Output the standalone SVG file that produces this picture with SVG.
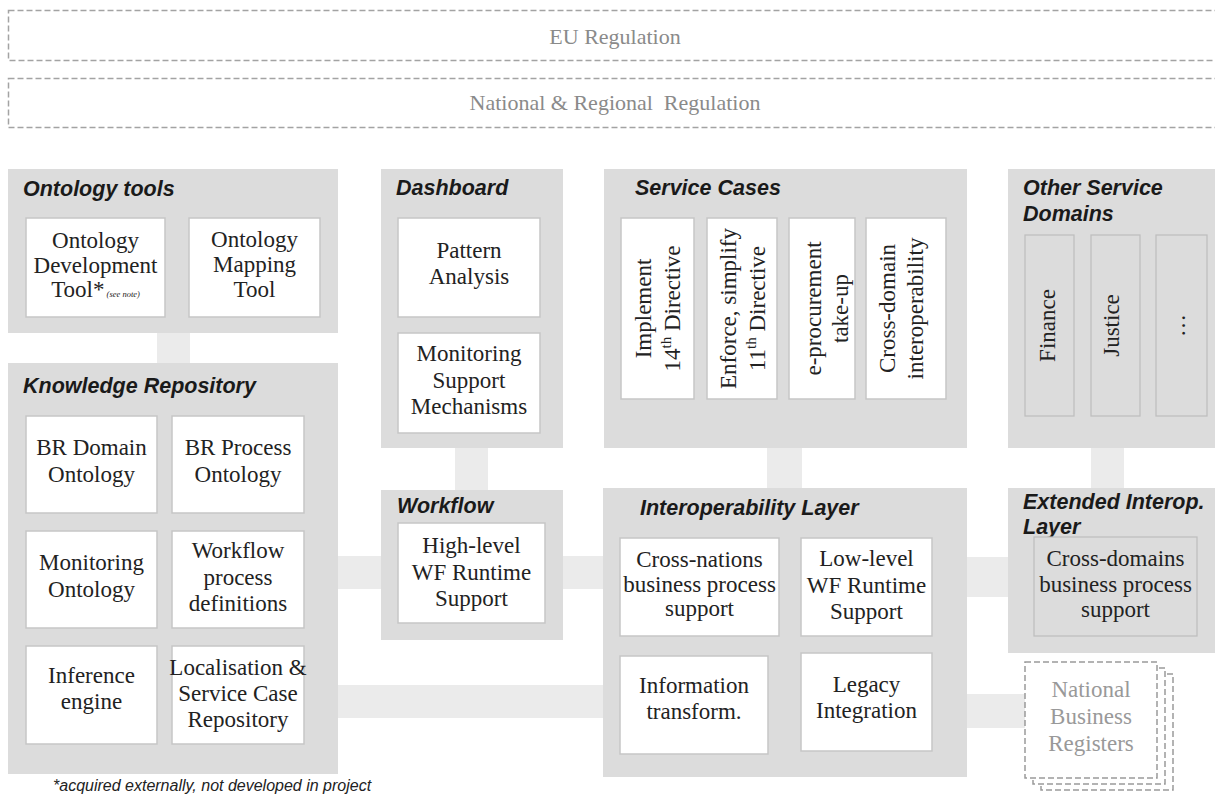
<svg xmlns="http://www.w3.org/2000/svg" width="1215" height="796" viewBox="0 0 1215 796">
<style>
.bg{fill:#ffffff}
.reg{fill:#ffffff;stroke:#a3a3a3;stroke-width:1.5;stroke-dasharray:6 3}
.regt{font-family:"Liberation Serif","Times New Roman",serif;font-size:22px;fill:#8a8a8a;text-anchor:middle}
.panel{fill:#dcdcdc}
.band{fill:#ebebeb}
.box{fill:#ffffff;stroke:#c6c6c6;stroke-width:1.5}
.gbox{fill:#dcdcdc;stroke:#bdbdbd;stroke-width:1.2}
.title{font-family:"Liberation Sans",Arial,sans-serif;font-size:21.5px;font-weight:bold;font-style:italic;fill:#1a1a1a}
.t{font-family:"Liberation Serif","Times New Roman",serif;font-size:23px;fill:#222;text-anchor:middle}
.nbr{fill:#ffffff;stroke:#9a9a9a;stroke-width:1.5;stroke-dasharray:6 3}
.nbrt{font-family:"Liberation Serif","Times New Roman",serif;font-size:23px;fill:#999;text-anchor:middle}
.foot{font-family:"Liberation Sans",Arial,sans-serif;font-size:16px;font-style:italic;fill:#222}
</style>
<rect class="bg" x="0" y="0" width="1215" height="796"/>

<g id="eu-regulation">
<rect class="reg" x="8.5" y="10.5" width="1225" height="50"/>
<text class="regt" x="615" y="44">EU Regulation</text>
</g>
<g id="national-regulation">
<rect class="reg" x="8.5" y="78.5" width="1225" height="49"/>
<text class="regt" x="615" y="110">National &amp; Regional&#160; Regulation</text>
</g>

<g id="connectors">
<rect class="band" x="157" y="330" width="33" height="36"/>
<rect class="band" x="455" y="445" width="33" height="48"/>
<rect class="band" x="767" y="445" width="35" height="46"/>
<rect class="band" x="1091" y="445" width="33" height="46"/>
<rect class="band" x="335" y="556" width="49" height="33"/>
<rect class="band" x="560" y="556" width="46" height="33"/>
<rect class="band" x="335" y="685" width="271" height="33"/>
<rect class="band" x="964" y="557" width="47" height="40"/>
<rect class="band" x="964" y="694" width="64" height="34"/>
</g>

<g id="ontology-tools">
<rect class="panel" x="8" y="169" width="330" height="164"/>
<text class="title" x="23" y="196">Ontology tools</text>
<g id="ontology-development-tool">
<rect class="box" x="26" y="218" width="139" height="99"/>
<text class="t" font-size="21" x="95.5" y="248">Ontology</text>
<text class="t" font-size="21" x="95.5" y="273">Development</text>
<text class="t" font-size="21" x="95.5" y="297">Tool*<tspan font-size="8.5" font-style="italic"> (see note)</tspan></text>
</g>
<g id="ontology-mapping-tool">
<rect class="box" x="189" y="218" width="131" height="99"/>
<text class="t" font-size="21" x="254.5" y="247">Ontology</text>
<text class="t" font-size="21" x="254.5" y="272">Mapping</text>
<text class="t" font-size="21" x="254.5" y="297">Tool</text>
</g>
</g>

<g id="knowledge-repository">
<rect class="panel" x="8" y="363" width="330" height="411"/>
<text class="title" x="23" y="393">Knowledge Repository</text>
<g id="br-domain-ontology">
<rect class="box" x="26" y="416" width="131" height="97"/>
<text class="t" x="91.5" y="455">BR Domain</text>
<text class="t" x="91.5" y="482">Ontology</text>
</g>
<g id="br-process-ontology">
<rect class="box" x="172" y="416" width="132" height="97"/>
<text class="t" x="238" y="455">BR Process</text>
<text class="t" x="238" y="482">Ontology</text>
</g>
<g id="monitoring-ontology">
<rect class="box" x="26" y="531" width="131" height="97"/>
<text class="t" x="91.5" y="570">Monitoring</text>
<text class="t" x="91.5" y="597">Ontology</text>
</g>
<g id="workflow-process-definitions">
<rect class="box" x="172" y="531" width="132" height="97"/>
<text class="t" x="238" y="558">Workflow</text>
<text class="t" x="238" y="585">process</text>
<text class="t" x="238" y="611">definitions</text>
</g>
<g id="inference-engine">
<rect class="box" x="26" y="646" width="131" height="98"/>
<text class="t" x="91.5" y="683">Inference</text>
<text class="t" x="91.5" y="709">engine</text>
</g>
<g id="localisation-repository">
<rect class="box" x="172" y="646" width="132" height="98"/>
<text class="t" font-size="21.5" x="238" y="675">Localisation &amp;</text>
<text class="t" font-size="21.5" x="238" y="701">Service Case</text>
<text class="t" font-size="21.5" x="238" y="727">Repository</text>
</g>
</g>

<g id="dashboard">
<rect class="panel" x="381" y="169" width="182" height="279"/>
<text class="title" x="396" y="195">Dashboard</text>
<g id="pattern-analysis">
<rect class="box" x="398" y="218" width="142" height="99"/>
<text class="t" x="469" y="258">Pattern</text>
<text class="t" x="469" y="284">Analysis</text>
</g>
<g id="monitoring-support-mechanisms">
<rect class="box" x="398" y="333" width="142" height="100"/>
<text class="t" x="469" y="361">Monitoring</text>
<text class="t" x="469" y="388">Support</text>
<text class="t" x="469" y="414">Mechanisms</text>
</g>
</g>

<g id="workflow">
<rect class="panel" x="381" y="490" width="182" height="150"/>
<text class="title" x="397" y="513">Workflow</text>
<g id="high-level-wf-runtime">
<rect class="box" x="398" y="523" width="147" height="100"/>
<text class="t" x="471.5" y="553">High-level</text>
<text class="t" x="471.5" y="580">WF Runtime</text>
<text class="t" x="471.5" y="606">Support</text>
</g>
</g>

<g id="service-cases">
<rect class="panel" x="604" y="169" width="363" height="279"/>
<text class="title" x="635" y="195">Service Cases</text>
<g id="implement-14th">
<rect class="box" x="621" y="218" width="73" height="181"/>
<g transform="translate(657.5,308.5) rotate(-90)">
<text class="t" font-size="24" x="0" y="-6.5">Implement</text>
<text class="t" font-size="24" x="0" y="22.5">14<tspan font-size="15" dy="-9">th</tspan><tspan dy="9"> Directive</tspan></text>
</g>
</g>
<g id="enforce-11th">
<rect class="box" x="707" y="218" width="70" height="181"/>
<g transform="translate(742,308.5) rotate(-90)">
<text class="t" font-size="24" x="0" y="-6">Enforce, simplify</text>
<text class="t" font-size="24" x="0" y="23">11<tspan font-size="15" dy="-9">th</tspan><tspan dy="9"> Directive</tspan></text>
</g>
</g>
<g id="e-procurement">
<rect class="box" x="789" y="218" width="66" height="181"/>
<g transform="translate(822,308.5) rotate(-90)">
<text class="t" font-size="24" x="0" y="-1">e-procurement</text>
<text class="t" font-size="24" x="0" y="26">take-up</text>
</g>
</g>
<g id="cross-domain-interoperability">
<rect class="box" x="866" y="218" width="80" height="181"/>
<g transform="translate(906,308.5) rotate(-90)">
<text class="t" font-size="24" x="0" y="-11">Cross-domain</text>
<text class="t" font-size="24" x="0" y="17">interoperability</text>
</g>
</g>
</g>

<g id="other-service-domains">
<rect class="panel" x="1008" y="169" width="215" height="279"/>
<text class="title" x="1023" y="195">Other Service</text>
<text class="title" x="1023" y="221">Domains</text>
<g id="finance">
<rect class="gbox" x="1025" y="235" width="49" height="181"/>
<text class="t" font-size="24" fill="#444" transform="translate(1049.5,325.5) rotate(-90)" x="0" y="5">Finance</text>
</g>
<g id="justice">
<rect class="gbox" x="1091" y="235" width="49" height="181"/>
<text class="t" font-size="24" fill="#444" transform="translate(1115.5,325.5) rotate(-90)" x="0" y="3">Justice</text>
</g>
<g id="other-domains">
<rect class="gbox" x="1156" y="235" width="51" height="181"/>
<text class="t" font-size="24" fill="#444" transform="translate(1181.5,325.5) rotate(-90)" x="0" y="3">…</text>
</g>
</g>

<g id="interoperability-layer">
<rect class="panel" x="603" y="488" width="364" height="289"/>
<text class="title" x="640" y="515">Interoperability Layer</text>
<g id="cross-nations-support">
<rect class="box" x="620" y="538" width="159" height="98"/>
<text class="t" x="699.5" y="567">Cross-nations</text>
<text class="t" font-size="21" x="699.5" y="592">business process</text>
<text class="t" font-size="21" x="699.5" y="616">support</text>
</g>
<g id="low-level-wf-runtime">
<rect class="box" x="801" y="538" width="131" height="98"/>
<text class="t" x="866.5" y="566">Low-level</text>
<text class="t" x="866.5" y="593">WF Runtime</text>
<text class="t" x="866.5" y="619">Support</text>
</g>
<g id="information-transform">
<rect class="box" x="620" y="656" width="148" height="98"/>
<text class="t" font-size="24" x="694" y="693">Information</text>
<text class="t" font-size="24" x="694" y="719">transform.</text>
</g>
<g id="legacy-integration">
<rect class="box" x="801" y="653" width="131" height="98"/>
<text class="t" font-size="24" x="866.5" y="692">Legacy</text>
<text class="t" font-size="24" x="866.5" y="718">Integration</text>
</g>
</g>

<g id="extended-interop-layer">
<rect class="panel" x="1008" y="488" width="215" height="165"/>
<text class="title" x="1023" y="509">Extended Interop.</text>
<text class="title" x="1023" y="534">Layer</text>
<g id="cross-domains-support">
<rect class="gbox" x="1034" y="537" width="163" height="99"/>
<text class="t" x="1115.5" y="566">Cross-domains</text>
<text class="t" font-size="21.5" x="1115.5" y="592">business process</text>
<text class="t" font-size="21.5" x="1115.5" y="617">support</text>
</g>
</g>

<g id="national-business-registers">
<rect class="nbr" x="1041" y="674" width="132" height="116"/>
<rect class="nbr" x="1033" y="668" width="132" height="116"/>
<rect class="nbr" x="1025" y="662" width="132" height="116"/>
<text class="nbrt" x="1091" y="697">National</text>
<text class="nbrt" x="1091" y="724">Business</text>
<text class="nbrt" x="1091" y="751">Registers</text>
</g>

<text class="foot" x="53" y="791">*acquired externally, not developed in project</text>
</svg>
